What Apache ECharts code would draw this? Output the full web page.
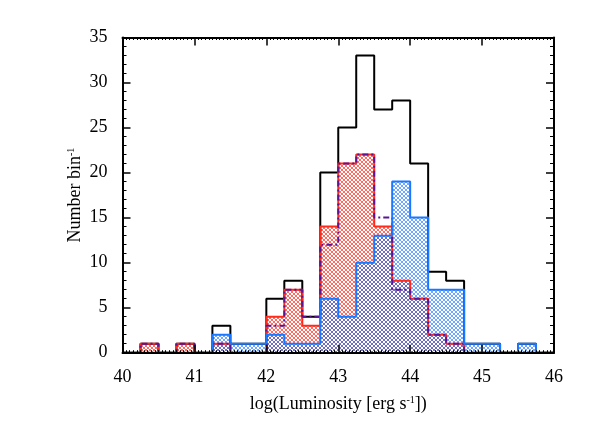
<!DOCTYPE html>
<html>
<head>
<meta charset="utf-8">
<script src="https://cdn.jsdelivr.net/npm/echarts@6/dist/echarts.min.js"></script>
<style>
  html, body { margin: 0; padding: 0; background: #fff; }
  #chart { width: 591px; height: 432px; }
</style>
</head>
<body>
<div id="chart"></div>
<script>
// bin edges (left edge of each bin, last one closes the histogram)
var binEdges = [40.00, 40.25, 40.50, 40.75, 41.00, 41.25, 41.50, 41.75, 42.00, 42.25, 42.50, 42.75,
                43.00, 43.25, 43.50, 43.75, 44.00, 44.25, 44.50, 44.75, 45.00, 45.25, 45.50, 45.75, 46.00];
// counts per bin
var totalCounts  = [0, 1, 0, 1, 0, 3, 1, 1, 6, 8, 4, 20, 25, 33, 27, 28, 21, 9, 8, 1, 1, 0, 1, 0];
var redCounts    = [0, 1, 0, 1, 0, 1, 0, 0, 4, 7, 3, 14, 21, 22, 14, 8, 6, 2, 1, 0, 0, 0, 0, 0];
var purpleCounts = [0, 1, 0, 1, 0, 1, 0, 0, 3, 7, 4, 12, 21, 22, 15, 7, 6, 2, 1, 0, 0, 0, 0, 0];
var blueCounts   = [0, 0, 0, 0, 0, 2, 1, 1, 2, 1, 1, 6, 4, 10, 13, 19, 15, 7, 7, 1, 1, 0, 1, 0];
var xTicks = [40, 41, 42, 43, 44, 45, 46];

var FONT = 'Liberation Serif';

// pairs for a step histogram: [edge, count], plus closing edge at 0
function stepData(counts) {
    var out = [];
    for (var i = 0; i < counts.length; i++) {
        out.push([binEdges[i], counts[i]]);
    }
    out.push([binEdges[binEdges.length - 1], 0]);
    return out;
}

// cross hatch pattern
function hatch(color) {
    var c = document.createElement('canvas');
    c.width = 4; c.height = 4;
    var ctx = c.getContext('2d');
    ctx.fillStyle = color;
    for (var i = 0; i < 4; i++) {
        ctx.fillRect(i, i, 1, 1);
        ctx.fillRect(3 - i, i, 1, 1);
    }
    return { image: c, repeat: 'repeat' };
}

var myChart = echarts.init(document.getElementById('chart'));

var baseX = {
    type: 'value',
    min: 40,
    max: 46,
    interval: 1,
    z: 10,
    axisLine: { show: true, onZero: false, lineStyle: { color: '#000', width: 2 } },
    axisTick: { show: true, inside: true, length: 8, lineStyle: { color: '#000', width: 1.5 } },
    minorTick: { show: true, splitNumber: 20, length: 2.5, lineStyle: { color: '#000', width: 1 } },
    splitLine: { show: false },
    minorSplitLine: { show: false }
};
var baseY = {
    type: 'value',
    min: 0,
    max: 35,
    interval: 5,
    z: 10,
    axisLine: { show: true, onZero: false, lineStyle: { color: '#000', width: 2 } },
    axisTick: { show: true, inside: true, length: 8, lineStyle: { color: '#000', width: 1.5 } },
    minorTick: { show: true, splitNumber: 5, length: 4, lineStyle: { color: '#000', width: 1 } },
    splitLine: { show: false },
    minorSplitLine: { show: false }
};

var option = {
    animation: false,
    backgroundColor: '#fff',
    grid: {
        left: 122.5,
        right: 37,
        top: 37.5,
        bottom: 79.3,
        containLabel: false,
        outerBoundsMode: 'none'
    },
    xAxis: [
        Object.assign({}, baseX, {
            position: 'bottom',
            axisLabel: {
                show: true, color: '#000', fontFamily: FONT, fontSize: 18, margin: 16,
                customValues: xTicks
            },
            name: 'log(Luminosity [erg s{sup|-1}])',
            nameLocation: 'middle',
            nameGap: 43,
            nameMoveOverlap: false,
            nameTextStyle: {
                color: '#000', fontFamily: FONT, fontSize: 18,
                rich: { sup: { fontFamily: FONT, fontSize: 10, verticalAlign: 'top', color: '#000' } }
            }
        }),
        Object.assign({}, baseX, {
            position: 'top',
            axisLabel: { show: false }
        })
    ],
    yAxis: [
        Object.assign({}, baseY, {
            position: 'left',
            axisLabel: { show: true, color: '#000', fontFamily: FONT, fontSize: 18, margin: 15 },
            name: 'Number bin{sup|-1}',
            nameLocation: 'middle',
            nameGap: 38,
            nameMoveOverlap: false,
            nameTextStyle: {
                color: '#000', fontFamily: FONT, fontSize: 18,
                rich: { sup: { fontFamily: FONT, fontSize: 10, verticalAlign: 'top', color: '#000' } }
            }
        }),
        Object.assign({}, baseY, {
            position: 'right',
            axisLabel: { show: false }
        })
    ],
    series: [
        // hatched fills
        {
            name: 'red fill', type: 'line', step: 'end', symbol: 'none',
            data: stepData(redCounts),
            lineStyle: { width: 0 },
            areaStyle: { color: hatch('rgba(255,45,30,0.7)'), opacity: 1 },
            z: 2
        },
        {
            name: 'blue fill', type: 'line', step: 'end', symbol: 'none',
            data: stepData(blueCounts),
            lineStyle: { width: 0 },
            areaStyle: { color: hatch('rgba(25,115,255,0.62)'), opacity: 1 },
            z: 3
        },
        // outlines
        {
            name: 'total', type: 'line', step: 'end', symbol: 'none',
            data: stepData(totalCounts),
            lineStyle: { color: '#000', width: 2 },
            z: 4
        },
        {
            name: 'red', type: 'line', step: 'end', symbol: 'none',
            data: stepData(redCounts),
            lineStyle: { color: '#ff2a1a', width: 2 },
            z: 5
        },
        {
            name: 'purple', type: 'line', step: 'end', symbol: 'none',
            data: stepData(purpleCounts),
            lineStyle: { color: '#5a1496', width: 2, type: [6, 3, 2, 3] },
            z: 6
        },
        {
            name: 'blue', type: 'line', step: 'end', symbol: 'none',
            data: stepData(blueCounts),
            lineStyle: { color: '#1a78ff', width: 2 },
            z: 7
        }
    ]
};

myChart.setOption(option);
</script>
</body>
</html>
